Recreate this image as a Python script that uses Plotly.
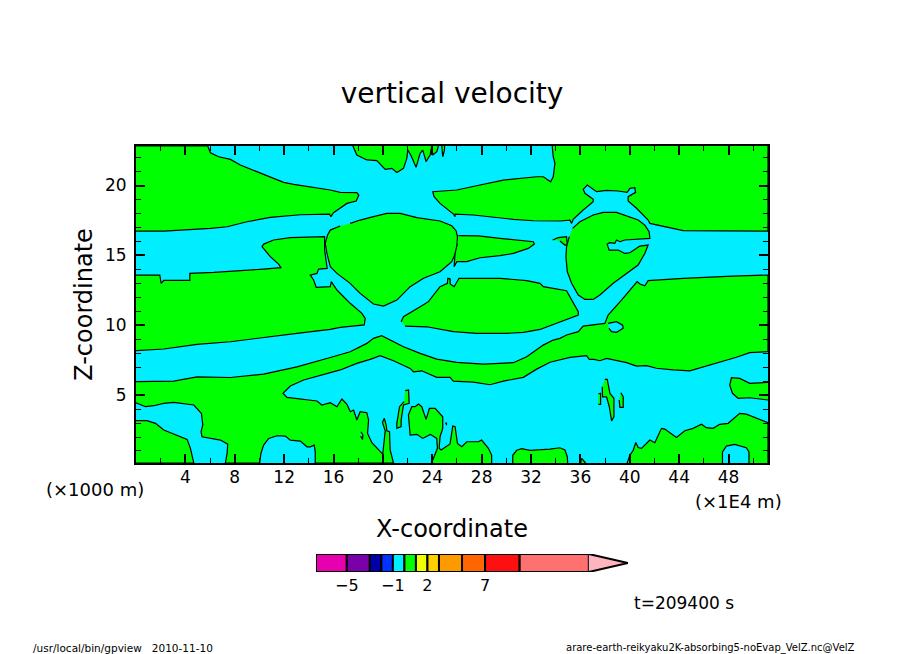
import plotly.graph_objects as go

W, H = 904, 654
PAGE_MARGIN = 8  # the page keeps its default 8 px body margin
FONT = "DejaVu Sans"
GREEN = "#00FF00"
CYAN = "#00EEFF"

# Plot window, in axis units
x_range = [0, 51.2]
z_range = [0.14, 22.83]
x_major_ticks = list(range(4, 49, 4))
z_major_ticks = [5, 10, 15, 20]

# ---- velocity regions: x (1E4 m), z (1000 m) ----
upper_left_x = [0, 5.81, 6.03, 6.70, 7.65, 8.45, 10.34, 11.96, 12.77, 14.12, 15.74, 16.54, 17.89, 18.05, 17.84, 17.09, 16.55, 16.0, 15.79, 15.68, 13.31, 10.88, 8.99, 7.38, 6.03, 4.68, 2.25, 0]
upper_left_z = [22.83, 22.83, 22.35, 22.06, 21.87, 21.47, 20.80, 20.23, 20.08, 19.92, 19.68, 19.51, 19.49, 19.32, 18.89, 18.72, 18.41, 18.06, 17.77, 17.96, 17.91, 17.72, 17.41, 17.05, 16.93, 16.86, 16.74, 16.74]

middle_left_x = [0, 1.93, 2.04, 2.25, 4.36, 4.36, 6.30, 8.72, 10.34, 11.74, 11.55, 10.88, 10.21, 10.34, 11.15, 12.5, 15.28, 15.28, 15.41, 15.49, 14.79, 14.66, 14.12, 14.39, 14.60, 15.74, 15.82, 16.28, 17.35, 18.30, 18.57, 18.49, 16.55, 15.74, 13.04, 10.34, 7.65, 4.95, 2.25, 0]
middle_left_z = [13.59, 13.59, 13.0, 13.21, 13.21, 13.71, 13.78, 13.90, 14.02, 14.12, 14.38, 14.91, 15.62, 15.81, 16.10, 16.27, 16.34, 15.38, 14.43, 14.07, 14.02, 13.71, 13.59, 13.24, 12.71, 12.76, 13.12, 12.52, 11.57, 10.85, 10.49, 10.02, 9.85, 9.70, 9.42, 9.13, 8.82, 8.63, 8.30, 8.18]

oval_x = [17.35, 18.16, 19.24, 20.32, 21.40, 22.75, 24.63, 25.58, 25.93, 26.04, 25.99, 25.58, 24.63, 23.29, 22.21, 21.13, 20.05, 19.24, 18.16, 17.35, 16.28, 15.74, 15.47, 15.33, 15.52, 15.74, 16.54]
oval_z = [17.29, 17.53, 17.77, 18.01, 18.01, 17.70, 17.46, 17.12, 16.77, 16.34, 15.38, 14.55, 13.83, 13.36, 12.76, 11.80, 11.37, 11.52, 12.28, 13.0, 13.71, 14.19, 15.14, 15.86, 16.46, 16.81, 17.10]

upper_right_x = [33.72, 33.80, 33.94, 33.80, 33.59, 33.0, 32.46, 31.11, 29.76, 27.87, 25.99, 24.04, 24.15, 24.63, 25.72, 25.85, 25.85, 27.33, 28.95, 30.57, 32.19, 34.34, 35.15, 35.29, 35.42, 36.23, 37.04, 37.04, 36.37, 36.23, 36.56, 37.31, 38.12, 39.06, 39.79, 40.01, 40.41, 40.47, 39.87, 39.87, 40.55, 41.49, 41.63, 43.52, 44.33, 51.2, 51.2]
upper_right_z = [22.83, 22.06, 21.59, 20.63, 20.27, 20.63, 20.63, 20.52, 20.39, 20.04, 19.68, 19.56, 19.20, 18.72, 17.96, 17.77, 17.96, 17.89, 17.72, 17.58, 17.48, 17.46, 17.53, 17.29, 17.58, 18.25, 18.84, 19.01, 19.44, 19.73, 20.04, 19.56, 19.65, 19.61, 19.51, 19.80, 19.84, 19.51, 19.20, 18.89, 18.37, 17.53, 17.29, 16.89, 16.77, 16.74, 22.83]

top_blobs_x = [17.57, 17.89, 18.70, 19.51, 20.19, 20.73, 21.13, 21.67, 21.94, 22.02, 22.26, 22.69, 23.02, 23.23, 23.50, 23.83, 23.96]
top_blobs_z = [22.83, 22.18, 21.83, 21.78, 21.16, 21.23, 20.94, 21.23, 21.94, 22.54, 22.18, 21.30, 22.30, 22.54, 21.71, 22.18, 22.83]
top_sliver_a_x = [23.96, 24.04, 24.37, 24.50]
top_sliver_a_z = [22.83, 22.18, 22.42, 22.83]
top_sliver_b_x = [24.77, 24.85, 24.99, 25.0]
top_sliver_b_z = [22.83, 22.06, 22.54, 22.83]

wedge_x = [26.12, 27.74, 29.49, 32.19, 32.27, 31.78, 30.57, 29.49, 27.87, 26.79, 25.99, 25.77, 25.85, 26.04]
wedge_z = [16.41, 16.39, 16.22, 15.98, 15.81, 15.50, 15.14, 14.98, 14.83, 14.55, 14.55, 14.19, 15.14, 15.86]

speck_x = [33.75, 34.21, 34.88, 34.94, 34.75, 34.34]
speck_z = [16.10, 16.27, 16.34, 15.74, 15.74, 16.03]

lens_x = [21.48, 21.67, 23.02, 23.69, 24.63, 25.23, 25.26, 25.45, 25.45, 25.77, 26.17, 29.49, 31.65, 32.73, 33.0, 34.34, 34.88, 35.15, 35.69, 35.83, 35.83, 33.54, 32.73, 31.38, 30.03, 27.60, 25.71, 23.56, 21.80]
lens_z = [10.25, 10.61, 11.33, 11.69, 12.76, 13.0, 13.36, 13.31, 12.95, 12.76, 13.36, 13.36, 13.19, 13.0, 12.76, 12.52, 12.47, 12.04, 11.13, 10.97, 10.73, 9.94, 9.70, 9.49, 9.42, 9.42, 9.54, 9.89, 9.94]

main_band_x = [0, 3.06, 4.95, 7.65, 10.34, 13.04, 15.74, 17.35, 18.7, 19.24, 19.90, 20.85, 21.67, 23.02, 24.36, 25.98, 28.14, 30.57, 31.65, 32.99, 33.80, 34.34, 34.88, 35.83, 36.23, 37.98, 38.25, 39.33, 40.60, 40.82, 41.22, 41.49, 44.33, 48.33, 51.2,
               51.2, 49.72, 48.64, 47.02, 45.67, 44.86, 43.52, 42.16, 41.36, 40.55, 39.74, 38.12, 37.58, 37.26, 37.10, 36.72, 36.50, 35.16, 33.54, 32.46, 31.38, 29.76, 28.68, 27.33, 25.71, 25.44, 24.36, 23.15, 22.48, 22.21, 20.86, 19.78, 18.97, 17.89, 16.55, 15.74, 13.58, 12.5, 11.91, 12.23, 13.58, 14.66, 15.06, 15.74, 16.28, 16.68, 17.09, 17.36, 17.63, 17.89, 18.16, 18.70, 18.84, 18.76, 19.11, 19.78, 19.99, 20.11, 20.19, 19.97, 20.11, 20.27, 20.32, 20.54, 20.59, 20.86,
               14.52, 14.52, 14.44, 14.12, 13.85, 13.31, 12.5, 12.1, 11.42, 10.75, 10.34, 10.12, 10.02, 7.24, 7.38, 7.43, 6.84, 5.35, 5.27, 5.41, 5.30, 4.68, 3.06, 2.25, 1.44, 0.77, 0]
main_band_z = [5.96, 6.0, 6.31, 6.26, 6.50, 7.02, 7.69, 8.10, 8.70, 9.06, 9.25, 8.83, 8.46, 7.99, 7.58, 7.34, 7.22, 7.32, 7.74, 8.58, 8.94, 9.06, 9.30, 9.54, 9.94, 10.13, 10.73, 11.80, 13.12, 12.95, 12.83, 13.19, 13.36, 13.52, 13.59,
               8.11, 8.04, 7.71, 7.28, 6.92, 6.73, 6.80, 6.92, 7.11, 7.08, 7.32, 7.63, 7.46, 7.51, 7.56, 7.56, 7.82, 7.70, 7.35, 6.86, 6.27, 6.0, 5.74, 5.93, 6.0, 6.27, 6.27, 6.74, 6.67, 6.91, 7.46, 7.82, 7.56, 7.27, 6.80, 6.61, 6.08, 5.65, 5.13, 4.84, 4.72, 4.58, 4.29, 4.46, 4.17, 4.72, 4.34, 3.81, 3.93, 3.22, 3.81, 3.74, 3.22, 2.26, 1.59, 0.95, 0.78, 1.78, 2.45, 3.03, 3.34, 2.86, 2.45, 2.38, 1.07, 0.14,
               0.14, 0.94, 1.42, 1.30, 1.30, 1.71, 1.78, 2.07, 2.09, 1.90, 1.42, 0.82, 0.14, 0.14, 0.82, 1.49, 1.78, 2.02, 2.38, 2.86, 3.69, 4.29, 4.48, 4.41, 4.24, 4.17, 4.45]

lower_left_x = [0, 0.89, 1.58, 2.25, 4.14, 4.41, 4.68, 0]
lower_left_z = [3.17, 3.17, 2.98, 2.50, 1.83, 1.19, 0.14, 0.14]

tall_island_x = [21.81, 22.08, 22.13, 21.67, 21.48, 21.48, 21.13, 21.13, 21.35, 21.72]
tall_island_z = [5.32, 5.36, 4.41, 4.29, 3.22, 2.74, 2.62, 2.98, 4.17, 4.53]

mound_x = [23.94, 24.15, 24.42, 24.36, 23.85, 23.23, 22.75, 22.21, 22.07, 22.34, 22.61, 22.88, 23.15, 23.50, 23.77, 24.23, 24.85, 24.85, 24.63, 24.56, 24.72, 25.44, 25.66, 25.85, 26.04, 26.39, 26.80, 27.74, 28.0, 28.55, 28.81, 28.81]
mound_z = [0.14, 0.59, 1.19, 1.90, 2.19, 1.90, 2.19, 2.14, 3.57, 4.17, 4.17, 4.36, 4.17, 3.26, 4.05, 4.05, 3.45, 2.62, 2.02, 1.19, 1.07, 1.50, 2.79, 2.74, 1.54, 1.30, 1.66, 1.66, 1.78, 1.19, 0.71, 0.14]

dot_x = [25.05, 25.15, 25.15]
dot_z = [2.98, 3.0, 2.85]

low_hump_x = [30.52, 30.52, 30.84, 31.25, 31.92, 33.27, 33.54, 34.34, 34.75, 34.94, 34.97]
low_hump_z = [0.14, 0.69, 1.05, 1.17, 1.05, 1.10, 1.14, 1.23, 1.07, 0.59, 0.14]

low_tip_x = [36.02, 36.1, 36.42]
low_tip_z = [0.14, 0.47, 0.14]

right_mound_x = [39.79, 40.01, 40.28, 40.49, 40.68, 40.95, 41.63, 42.03, 42.57, 42.84, 43.78, 44.46, 45.13, 45.81, 46.21, 46.75, 47.29, 47.97, 48.91, 49.44, 51.2, 51.2]
right_mound_z = [0.14, 0.69, 1.05, 1.61, 1.25, 1.19, 1.78, 1.59, 2.62, 2.57, 1.97, 2.45, 2.62, 2.91, 2.67, 2.62, 2.91, 2.98, 3.69, 3.64, 3.02, 0.14]

right_blob_x = [51.2, 49.72, 48.91, 48.24, 48.10, 48.32, 48.78, 49.72, 51.2]
right_blob_z = [5.91, 5.84, 6.20, 6.25, 5.72, 5.13, 4.77, 4.81, 4.65]

spike_x = [37.98, 38.18, 38.39, 38.72, 38.72, 38.53, 38.34, 38.12, 37.80, 37.77]
spike_z = [6.13, 6.13, 5.13, 4.77, 3.46, 3.15, 4.17, 4.88, 4.88, 5.60]
spike_left_x = [37.45, 37.64, 37.64, 37.45]
spike_left_z = [5.08, 5.13, 4.34, 4.34]
spike_right_x = [39.28, 39.47, 39.47, 39.20, 39.14]
spike_right_z = [5.17, 4.88, 4.12, 4.12, 4.65]

ring_oval_x = [35.37, 35.96, 37.04, 37.85, 38.93, 40.01, 40.68, 41.22, 41.57, 41.63, 40.01, 39.60, 39.20, 38.93, 38.79, 38.39, 38.17, 38.33, 38.66, 39.06, 39.33, 39.60, 40.01, 40.55, 40.82, 41.49, 41.22, 40.68, 39.74, 38.66, 37.58, 37.04, 36.37, 35.83, 35.29, 34.94, 34.83, 34.88, 35.10]
ring_oval_z = [16.93, 17.41, 17.89, 18.08, 18.08, 17.72, 17.53, 17.17, 16.70, 16.22, 16.15, 16.10, 15.98, 16.10, 15.86, 15.91, 15.81, 15.38, 15.38, 15.38, 15.26, 15.14, 15.19, 15.50, 15.67, 15.74, 15.14, 14.31, 13.71, 13.0, 12.16, 11.85, 11.85, 12.16, 13.0, 13.83, 14.91, 15.62, 16.34]

# negative (cyan) holes drawn over the positive regions
hole_band_x = [38.25, 38.93, 39.42, 39.47, 38.93, 38.53, 38.31]
hole_band_z = [10.13, 10.25, 10.01, 9.78, 9.49, 9.54, 9.78]
hole_mound_x = [18.22, 18.38, 18.35, 18.20]
hole_mound_z = [2.38, 2.14, 1.83, 2.07]
hole_right_x = [47.51, 47.51, 47.83, 48.50, 49.44, 49.66, 49.66]
hole_right_z = [0.14, 0.94, 1.35, 1.47, 1.23, 0.94, 0.14]

green_regions = [
    (upper_left_x, upper_left_z), (middle_left_x, middle_left_z), (oval_x, oval_z),
    (upper_right_x, upper_right_z), (top_blobs_x, top_blobs_z),
    (top_sliver_a_x, top_sliver_a_z), (top_sliver_b_x, top_sliver_b_z),
    (wedge_x, wedge_z), (speck_x, speck_z), (lens_x, lens_z),
    (main_band_x, main_band_z), (lower_left_x, lower_left_z),
    (tall_island_x, tall_island_z), (mound_x, mound_z), (dot_x, dot_z),
    (low_hump_x, low_hump_z), (low_tip_x, low_tip_z),
    (right_mound_x, right_mound_z), (right_blob_x, right_blob_z),
    (spike_x, spike_z), (spike_left_x, spike_left_z), (spike_right_x, spike_right_z),
    (ring_oval_x, ring_oval_z),
]
cyan_holes = [(hole_band_x, hole_band_z), (hole_mound_x, hole_mound_z), (hole_right_x, hole_right_z)]

# ---- colour key ----
key_levels = [-7.67, -5, -3, -2, -1, 0, 1, 2, 3, 5, 7, 10, 16]
key_colors = ["#E600AF", "#7A00A8", "#0000A8", "#0033FF", "#00EEFF", "#00FF00", "#EEFF00",
              "#FFD000", "#FF9900", "#FF6600", "#FF1010", "#FF7070"]
key_tip_level = 19.4
key_tip_color = "#FFB4BE"
key_tick_vals = [-5, -1, 2, 7]
key_tick_text = ["\u22125", "\u22121", "2", "7"]

fig = go.Figure()

# negative velocity fills the whole window; positive regions are drawn over it
fig.add_trace(go.Scatter(
    x=[x_range[0], x_range[1], x_range[1], x_range[0]],
    y=[z_range[0], z_range[0], z_range[1], z_range[1]],
    mode="none", fill="toself", fillcolor=CYAN, hoverinfo="skip", showlegend=False,
    xaxis="x", yaxis="y"))


def add_region(xs, zs, color):
    fig.add_trace(go.Scatter(x=xs, y=zs, mode="lines", fill="toself", fillcolor=color,
                             line=dict(color="black", width=1.2), hoverinfo="skip",
                             showlegend=False, xaxis="x", yaxis="y"))


for xs, zs in green_regions:
    add_region(xs, zs, GREEN)
for xs, zs in cyan_holes:
    add_region(xs, zs, CYAN)

fig.add_trace(go.Bar(
    y=[0] * len(key_colors),
    x=[b - a for a, b in zip(key_levels[:-1], key_levels[1:])],
    base=key_levels[:-1], orientation="h", width=1,
    marker=dict(color=key_colors, line=dict(color="black", width=2)),
    cliponaxis=False, showlegend=False, hoverinfo="skip", xaxis="x2", yaxis="y2"))
fig.add_trace(go.Scatter(
    x=[key_levels[-1], key_tip_level, key_levels[-1]], y=[0.5, 0, -0.5],
    mode="lines", fill="toself", fillcolor=key_tip_color, cliponaxis=False,
    line=dict(color="black", width=2), showlegend=False, hoverinfo="skip",
    xaxis="x2", yaxis="y2"))


def fx(px):
    return (px - PAGE_MARGIN) / (W - PAGE_MARGIN)


def fy(py):
    return 1 - (py - PAGE_MARGIN) / (H - PAGE_MARGIN)


def note(text, px, py, size, anchor="left"):
    return dict(text=text, x=fx(px), y=fy(py), xref="paper", yref="paper", showarrow=False,
                xanchor=anchor, yanchor="middle", font=dict(family=FONT, size=size, color="black"))


frame = dict(showline=True, linecolor="black", linewidth=2, mirror="ticks", ticks="inside",
             tickcolor="black", showgrid=False, zeroline=False,
             tickfont=dict(family=FONT, size=17, color="black"))

fig.update_layout(
    width=W - PAGE_MARGIN, height=H - PAGE_MARGIN, autosize=False,
    margin=dict(l=0, r=0, t=0, b=0),
    paper_bgcolor="white", plot_bgcolor="white", barmode="overlay",
    title=dict(text="vertical velocity", x=fx(452), xanchor="center", y=fy(93), yanchor="middle",
               font=dict(family=FONT, size=28, color="black")),
    xaxis=dict(frame, domain=[fx(136), fx(768)], range=x_range, tickvals=x_major_ticks,
               ticklen=9, tickwidth=2, ticklabelstandoff=-2, anchor="y",
               minor=dict(ticks="inside", dtick=2, ticklen=5, tickwidth=1, tickcolor="black"),
               title=dict(text="X-coordinate", standoff=34,
                          font=dict(family=FONT, size=24, color="black"))),
    yaxis=dict(frame, domain=[fy(463), fy(146)], range=z_range, tickvals=z_major_ticks,
               ticklen=9, tickwidth=2, ticklabelstandoff=4, anchor="x",
               minor=dict(ticks="inside", dtick=1, ticklen=5, tickwidth=1, tickcolor="black"),
               title=dict(text="Z-coordinate", standoff=6,
                          font=dict(family=FONT, size=24, color="black"))),
    xaxis2=dict(domain=[fx(316), fx(628)], range=[key_levels[0], key_tip_level], anchor="y2",
                showgrid=False, zeroline=False, showline=False, ticks="", ticklabelstandoff=2,
                tickvals=key_tick_vals, ticktext=key_tick_text,
                tickfont=dict(family=FONT, size=16, color="black")),
    yaxis2=dict(domain=[fy(572), fy(554)], range=[-0.5, 0.5], anchor="x2", showgrid=False,
                zeroline=False, showline=False, showticklabels=False, ticks=""),
    annotations=[
        note("(\u00d71000 m)", 44, 490, 18),
        note("(\u00d71E4 m)", 693, 502, 18),
        note("t=209400 s", 632, 603, 17),
        note("/usr/local/bin/gpview   2010-11-10", 31, 648, 10.5),
        note("arare-earth-reikyaku2K-absorbing5-noEvap_VelZ.nc@VelZ", 564, 648, 10),
    ],
)

fig.write_html("out.html")
